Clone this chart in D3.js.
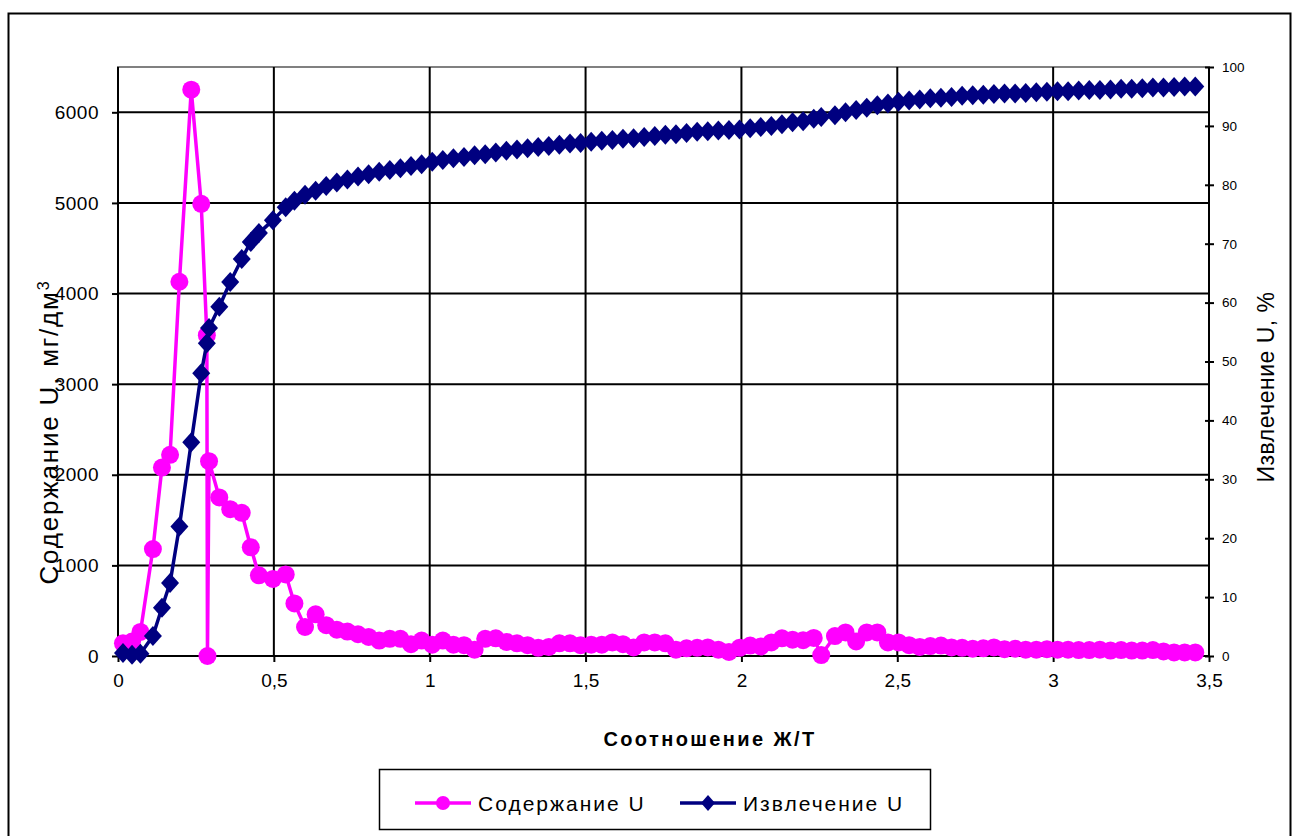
<!DOCTYPE html>
<html>
<head>
<meta charset="utf-8">
<script src="https://cdn.jsdelivr.net/npm/d3@7"></script>
<style>
  body { margin: 0; background: #fff; }
  svg text { font-family: "Liberation Sans", Arial, sans-serif; fill: #000; }
</style>
</head>
<body>
<div id="chart"></div>
<script>
// L/S ratio (Ж/Т) for each sample
const ratio = [
  0.016, 0.045, 0.072, 0.112, 0.141, 0.167, 0.197, 0.235, 0.267, 0.285, 0.287, 0.292,
  0.325, 0.360, 0.397, 0.426, 0.452, 0.497, 0.538, 0.566,
  0.600, 0.634, 0.668, 0.702, 0.736, 0.770, 0.804, 0.838, 0.872, 0.906,
  0.940, 0.974, 1.008, 1.042, 1.076, 1.110, 1.144, 1.178, 1.212, 1.246,
  1.280, 1.314, 1.348, 1.382, 1.416, 1.450, 1.484, 1.518, 1.552, 1.586,
  1.620, 1.654, 1.688, 1.722, 1.756, 1.790, 1.824, 1.858, 1.892, 1.926,
  1.960, 1.994, 2.028, 2.062, 2.096, 2.130, 2.164, 2.198, 2.232, 2.256,
  2.300, 2.334, 2.368, 2.402, 2.436, 2.470, 2.504, 2.538, 2.572, 2.606,
  2.640, 2.674, 2.708, 2.742, 2.776, 2.810, 2.844, 2.878, 2.912, 2.946,
  2.980, 3.014, 3.048, 3.082, 3.116, 3.150, 3.184, 3.218, 3.252, 3.286,
  3.320, 3.354, 3.388, 3.422, 3.456
];

// U content, mg/dm3 (left axis)
const content = [
  140, 160, 265, 1180, 2080, 2220, 4130, 6250, 4990, 3540, 0, 2150,
  1750, 1620, 1580, 1200, 890, 850, 900, 580,
  320, 460, 340, 290, 270, 240, 210, 170, 190, 190,
  130, 170, 125, 170, 125, 120, 70, 190, 195, 155,
  140, 120, 90, 100, 140, 140, 120, 125, 125, 150,
  130, 95, 150, 150, 140, 70, 85, 90, 95, 70,
  45, 90, 115, 105, 150, 195, 180, 175, 200, 10,
  220, 260, 160, 260, 260, 150, 150, 120, 100, 110,
  115, 95, 90, 80, 85, 95, 75, 80, 70, 70,
  75, 70, 70, 65, 65, 70, 60, 65, 60, 60,
  65, 50, 40, 40, 40
];

// U recovery, % (right axis)
const recovery = [
  0.5, 0.2, 0.4, 3.4, 8.2, 12.4, 22.0, 36.3, 48.0, 53.1, null, 55.7,
  59.3, 63.5, 67.4, 70.3, 71.8, 74.0, 76.2, 77.3,
  78.3, 79.0, 79.8, 80.4, 80.9, 81.4, 81.8, 82.2, 82.5, 82.8,
  83.2, 83.5, 83.9, 84.2, 84.5, 84.7, 85.0, 85.2, 85.5, 85.8,
  86.0, 86.2, 86.4, 86.6, 86.8, 87.0, 87.1, 87.3, 87.5, 87.6,
  87.8, 87.9, 88.1, 88.3, 88.5, 88.6, 88.8, 89.0, 89.1, 89.2,
  89.3, 89.4, 89.6, 89.8, 90.0, 90.3, 90.6, 90.8, 91.2, 91.5,
  91.8, 92.3, 92.7, 93.1, 93.5, 93.8, 94.1, 94.3, 94.5, 94.7,
  94.8, 94.9, 95.1, 95.2, 95.3, 95.4, 95.5, 95.5, 95.6, 95.7,
  95.8, 95.9, 95.9, 96.0, 96.1, 96.1, 96.2, 96.3, 96.3, 96.4,
  96.5, 96.5, 96.6, 96.7, 96.7
];

const xTicks = [0, 0.5, 1, 1.5, 2, 2.5, 3, 3.5];
const leftTicks = [0, 1000, 2000, 3000, 4000, 5000, 6000];
const rightTicks = [0, 10, 20, 30, 40, 50, 60, 70, 80, 90, 100];
const seriesNames = ['Содержание U', 'Извлечение U'];

const pink = '#FF00FF';
const navy = '#000080';

const W = 1292, H = 836;
const plot = {left: 118, right: 1209, top: 67, bottom: 656};

const svg = d3.select('#chart').append('svg')
  .attr('width', W)
  .attr('height', H);

// outer frame
svg.append('rect')
  .attr('x', 8.5).attr('y', 13.5)
  .attr('width', 1282).attr('height', 840)
  .attr('fill', 'none').attr('stroke', '#000').attr('stroke-width', 2);

const x = d3.scaleLinear().domain([0, 3.5]).range([plot.left, plot.right]);
const yL = d3.scaleLinear().domain([0, 6500]).range([plot.bottom, plot.top]);
const yR = d3.scaleLinear().domain([0, 100]).range([plot.bottom, plot.top]);

// plot area border (grey)
svg.append('rect')
  .attr('x', plot.left).attr('y', plot.top)
  .attr('width', plot.right - plot.left).attr('height', plot.bottom - plot.top)
  .attr('fill', 'none').attr('stroke', '#808080').attr('stroke-width', 2);

// grid
const grid = svg.append('g').attr('stroke', '#000').attr('stroke-width', 2);
grid.selectAll('line.h')
  .data(leftTicks.filter(d => d > 0))
  .enter().append('line')
  .attr('x1', plot.left).attr('x2', plot.right)
  .attr('y1', d => yL(d)).attr('y2', d => yL(d));
grid.selectAll('line.v')
  .data(xTicks.filter(d => d > 0 && d < 3.5))
  .enter().append('line')
  .attr('y1', plot.top).attr('y2', plot.bottom)
  .attr('x1', d => x(d)).attr('x2', d => x(d));

// axes
const xAxis = svg.append('g')
  .attr('transform', `translate(0,${plot.bottom})`)
  .call(d3.axisBottom(x).tickValues(xTicks).tickSize(6).tickPadding(12)
    .tickFormat(d => String(d).replace('.', ',')));
const leftAxis = svg.append('g')
  .attr('transform', `translate(${plot.left},0)`)
  .call(d3.axisLeft(yL).tickValues(leftTicks).tickSize(6).tickPadding(13)
    .tickFormat(d3.format('d')));
const rightAxis = svg.append('g')
  .attr('transform', `translate(${plot.right},0)`)
  .call(d3.axisRight(yR).tickValues(rightTicks).tickSize(5).tickPadding(8));

[xAxis, leftAxis, rightAxis].forEach(a => {
  a.select('.domain').attr('stroke', '#000').attr('stroke-width', 2);
  a.selectAll('.tick line').attr('stroke', '#000').attr('stroke-width', 2);
});
xAxis.select('.domain').attr('d', `M${plot.left},0H${plot.right}`);
leftAxis.select('.domain').attr('d', `M0,${plot.bottom}V${plot.top}`);
rightAxis.select('.domain').attr('d', `M0,${plot.bottom}V${plot.top}`);
rightAxis.selectAll('.tick line').attr('x1', -4);
xAxis.selectAll('text').style('font-size', '19px');
leftAxis.selectAll('text').style('font-size', '19px').style('letter-spacing', '0.5px');
rightAxis.selectAll('text').style('font-size', '13.5px');

// series
const rows = ratio.map((r, i) => ({r, c: content[i], e: recovery[i]}));

const pinkLine = d3.line()
  .defined(d => d.c != null)
  .x(d => x(d.r)).y(d => yL(d.c));
const navyLine = d3.line()
  .defined(d => d.e != null)
  .x(d => x(d.r)).y(d => yR(d.e));

svg.append('path')
  .datum(rows)
  .attr('d', pinkLine)
  .attr('fill', 'none').attr('stroke', pink).attr('stroke-width', 3.5)
  .attr('stroke-linejoin', 'round');
svg.append('g')
  .selectAll('circle')
  .data(rows.filter(d => d.c != null))
  .enter().append('circle')
  .attr('cx', d => x(d.r)).attr('cy', d => yL(d.c))
  .attr('r', 9).attr('fill', pink);

svg.append('path')
  .datum(rows)
  .attr('d', navyLine)
  .attr('fill', 'none').attr('stroke', navy).attr('stroke-width', 3.5)
  .attr('stroke-linejoin', 'round');
const diamond = (w, h) => `M0,${-h}L${w},0L0,${h}L${-w},0Z`;
svg.append('g')
  .selectAll('path')
  .data(rows.filter(d => d.e != null))
  .enter().append('path')
  .attr('transform', d => `translate(${x(d.r)},${yR(d.e)})`)
  .attr('d', diamond(9, 10)).attr('fill', navy);

// axis titles
const leftTitle = svg.append('text')
  .attr('transform', 'translate(58,432) rotate(-90)')
  .attr('text-anchor', 'middle')
  .style('font-size', '26px').style('letter-spacing', '1.8px');
leftTitle.append('tspan').text('Содержание  U, мг/дм');
leftTitle.append('tspan').attr('dy', -9).style('font-size', '16px').text('3');

svg.append('text')
  .attr('transform', 'translate(1274,387) rotate(-90)')
  .attr('text-anchor', 'middle')
  .style('font-size', '23px').style('letter-spacing', '0.5px')
  .text('Извлечение U, %');

svg.append('text')
  .attr('x', 710).attr('y', 746)
  .attr('text-anchor', 'middle')
  .style('font-size', '20px').style('font-weight', 'bold')
  .style('letter-spacing', '2.4px')
  .text('Соотношение Ж/Т');

// legend
const legend = svg.append('g');
legend.append('rect')
  .attr('x', 379.5).attr('y', 769.5).attr('width', 551).attr('height', 60)
  .attr('fill', '#fff').attr('stroke', '#000').attr('stroke-width', 1.5);

const items = [
  {name: seriesNames[0], color: pink, x0: 415, marker: 'circle'},
  {name: seriesNames[1], color: navy, x0: 680, marker: 'diamond'}
];
items.forEach(it => {
  const g = legend.append('g').attr('transform', `translate(${it.x0},803)`);
  g.append('line').attr('x1', 0).attr('x2', 56)
    .attr('stroke', it.color).attr('stroke-width', 3.5);
  if (it.marker === 'circle') {
    g.append('circle').attr('cx', 28).attr('r', 7).attr('fill', it.color);
  } else {
    g.append('path').attr('transform', 'translate(28,0)')
      .attr('d', diamond(7, 8)).attr('fill', it.color);
  }
  g.append('text').attr('x', 63).attr('y', 8)
    .style('font-size', '21px').style('letter-spacing', '2px').text(it.name);
});
</script>
</body>
</html>
